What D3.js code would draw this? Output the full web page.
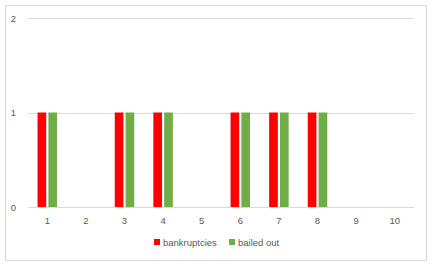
<!DOCTYPE html>
<html>
<head>
<meta charset="utf-8">
<script src="https://cdn.jsdelivr.net/npm/d3@7"></script>
<style>
  html, body { margin: 0; padding: 0; background: #fff; }
  svg { display: block; font-family: "Liberation Sans", Arial, sans-serif; }
</style>
</head>
<body>
<div id="chart"></div>
<script>
// ── data ───────────────────────────────────────────────
const categories   = ['1', '2', '3', '4', '5', '6', '7', '8', '9', '10'];
const seriesNames  = ['bankruptcies', 'bailed out'];
const bankruptcies = [1, 0, 1, 1, 0, 1, 1, 1, 0, 0];
const bailedOut    = [1, 0, 1, 1, 0, 1, 1, 1, 0, 0];
const yTicks       = [0, 1, 2];

const colors = ['#ff0000', '#70ad47'];
const seriesValues = [bankruptcies, bailedOut];

const W = 437, H = 268;
const plot = { left: 28, right: 414, top: 18, bottom: 207 };

const svg = d3.select('#chart').append('svg')
  .attr('width', W).attr('height', H);

// chart border
svg.append('rect')
  .attr('x', 5.5).attr('y', 5.5)
  .attr('width', 421).attr('height', 255)
  .attr('fill', '#fff').attr('stroke', '#d9d9d9');

// ── scales ─────────────────────────────────────────────
const x = d3.scaleBand().domain(categories).range([plot.left, plot.right]);
const x1 = d3.scaleBand().domain(seriesNames).range([0, 19.5]).paddingInner(0.2);
const y = d3.scaleLinear().domain([0, 2]).range([plot.bottom, plot.top]);

// gridlines
svg.append('g')
  .selectAll('line')
  .data(yTicks)
  .join('line')
    .attr('x1', plot.left).attr('x2', plot.right)
    .attr('y1', d => Math.round(y(d)) + 0.5).attr('y2', d => Math.round(y(d)) + 0.5)
    .attr('stroke', '#d9d9d9').attr('stroke-width', 1);

// y labels
svg.append('g')
  .selectAll('text')
  .data(yTicks)
  .join('text')
    .attr('x', 16)
    .attr('y', d => y(d) + 3.5)
    .attr('text-anchor', 'end')
    .attr('font-size', '9.5px')
    .attr('fill', '#595959')
    .text(d => d);

// x labels
svg.append('g')
  .selectAll('text')
  .data(categories)
  .join('text')
    .attr('x', d => x(d) + x.bandwidth() / 2)
    .attr('y', 224)
    .attr('text-anchor', 'middle')
    .attr('font-size', '9.5px')
    .attr('fill', '#595959')
    .text(d => d);

// ── bars ───────────────────────────────────────────────
seriesNames.forEach((name, si) => {
  svg.append('g')
    .selectAll('rect')
    .data(categories.map((c, i) => ({ c, v: seriesValues[si][i] })))
    .join('rect')
      .attr('x', d => x(d.c) + x.bandwidth() / 2 - 9.75 + x1(name))
      .attr('y', d => y(d.v))
      .attr('width', x1.bandwidth())
      .attr('height', d => y(0) - y(d.v))
      .attr('fill', colors[si]);
});

// ── legend ─────────────────────────────────────────────
const legendX = [154, 229];
const legend = svg.append('g');
seriesNames.forEach((name, si) => {
  legend.append('rect')
    .attr('x', legendX[si]).attr('y', 239)
    .attr('width', 6).attr('height', 6)
    .attr('fill', colors[si]);
  legend.append('text')
    .attr('x', legendX[si] + 9).attr('y', 245.5)
    .attr('font-size', '9.5px')
    .attr('fill', '#595959')
    .text(name);
});
</script>
</body>
</html>
